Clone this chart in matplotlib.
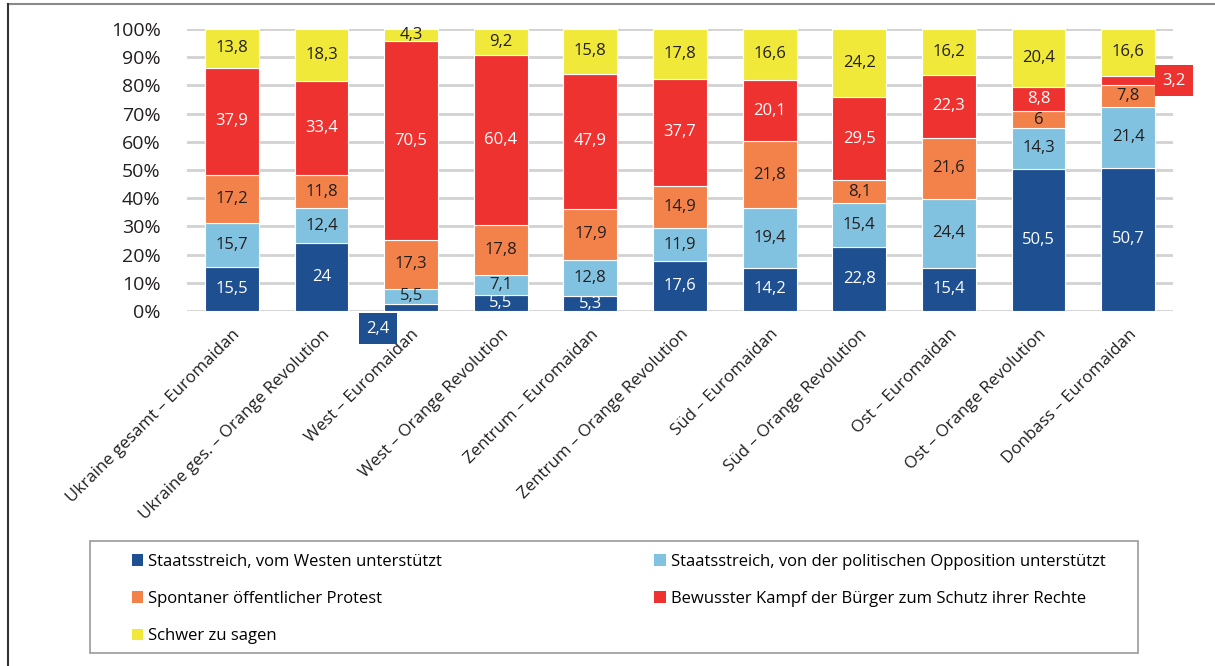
#!/usr/bin/env python3
"""Stacked 100% bars: Euromaidan vs Orange Revolution by region."""

import matplotlib.pyplot as plt
import numpy as np
from matplotlib.lines import Line2D
from matplotlib.patches import Patch, Rectangle

plt.rcParams["font.family"] = ["Open Sans", "DejaVu Sans"]

categories = [
    "Ukraine gesamt – Euromaidan",
    "Ukraine ges. – Orange Revolution",
    "West – Euromaidan",
    "West – Orange Revolution",
    "Zentrum – Euromaidan",
    "Zentrum – Orange Revolution",
    "Süd – Euromaidan",
    "Süd – Orange Revolution",
    "Ost – Euromaidan",
    "Ost – Orange Revolution",
    "Donbass – Euromaidan",
]

series_names = [
    "Staatsstreich, vom Westen unterstützt",
    "Staatsstreich, von der politischen Opposition unterstützt",
    "Spontaner öffentlicher Protest",
    "Bewusster Kampf der Bürger zum Schutz ihrer Rechte",
    "Schwer zu sagen",
]

westen = [15.5, 24, 2.4, 5.5, 5.3, 17.6, 14.2, 22.8, 15.4, 50.5, 50.7]
opposition = [15.7, 12.4, 5.5, 7.1, 12.8, 11.9, 19.4, 15.4, 24.4, 14.3, 21.4]
protest = [17.2, 11.8, 17.3, 17.8, 17.9, 14.9, 21.8, 8.1, 21.6, 6, 7.8]
kampf = [37.9, 33.4, 70.5, 60.4, 47.9, 37.7, 20.1, 29.5, 22.3, 8.8, 3.2]
schwer = [13.8, 18.3, 4.3, 9.2, 15.8, 17.8, 16.6, 24.2, 16.2, 20.4, 16.6]

colors = ["#1e4f90", "#80c2e0", "#f3814a", "#ee3230", "#f0e93a"]
text_colors = ["white", "#231f20", "#231f20", "white", "#231f20"]


def fmt(v):
    return f"{v:g}".replace(".", ",")


def main():
    data = np.array([westen, opposition, protest, kampf, schwer], dtype=float)
    pct = data / data.sum(axis=0) * 100

    fig = plt.figure(figsize=(12.15, 6.66), dpi=100)
    ax = fig.add_axes([187 / 1215, 1 - 311 / 666, 986 / 1215, 282 / 666])

    x = np.arange(len(categories))
    bottom = np.zeros(len(categories))
    for i, name in enumerate(series_names):
        ax.bar(x, pct[i], 0.6, bottom=bottom, color=colors[i],
               edgecolor="white", linewidth=0.8, label=name, zorder=3)
        for j in range(len(categories)):
            mid = bottom[j] + pct[i][j] / 2
            label = fmt(data[i][j])
            if (i, j) == (0, 2):
                # too small, boxed label below the bar
                ax.text(j - 0.37, -6.3, label, ha="center", va="center",
                        fontsize=12, color="white", zorder=5,
                        bbox=dict(boxstyle="square,pad=0.45", fc=colors[0], ec="none"),
                        clip_on=False)
            elif (i, j) == (3, 10):
                ax.text(j + 0.51, 81.6, label, ha="center", va="center",
                        fontsize=12, color="white", zorder=5,
                        bbox=dict(boxstyle="square,pad=0.45", fc=colors[3], ec="none"),
                        clip_on=False)
            else:
                ax.text(j, mid, label, ha="center", va="center", fontsize=12,
                        color=text_colors[i], zorder=4)
        bottom += pct[i]

    ax.set_xlim(-0.5, len(categories) - 0.5)
    ax.set_ylim(0, 100)
    ax.set_yticks(np.arange(0, 101, 10))
    ax.set_yticklabels([f"{v}%" for v in range(0, 101, 10)], fontsize=14,
                       color="#231f20")
    ax.yaxis.grid(True, color="#d2d2d2", linewidth=2, zorder=0)
    ax.set_axisbelow(True)
    for s in ax.spines.values():
        s.set_visible(False)
    ax.tick_params(axis="both", length=0)
    ax.tick_params(axis="y", pad=19)

    ax.set_xticks(x)
    ax.set_xticklabels(categories, rotation=45, ha="right", va="top",
                       rotation_mode="anchor", fontsize=12.2, color="#231f20")
    ax.tick_params(axis="x", pad=11)

    # legend frame + legend
    fig.add_artist(Rectangle((90 / 1215, 1 - 653 / 666), 1048 / 1215, 112 / 666,
                             transform=fig.transFigure, fill=False,
                             edgecolor="#9a9a9a", linewidth=1.2))
    handles = [Patch(facecolor=c, edgecolor="none") for c in colors]
    order = [0, 2, 4, 1, 3]
    fig.legend([handles[k] for k in order], [series_names[k] for k in order],
               loc="upper left", bbox_to_anchor=(125 / 1215, 1 - 547 / 666),
               ncol=2, frameon=False, fontsize=12, handlelength=0.7,
               handleheight=0.7, handletextpad=0.3, columnspacing=12.7,
               labelspacing=1.28, borderaxespad=0)

    # page frame
    fig.add_artist(Line2D([8 / 1215, 1], [1 - 4 / 666, 1 - 4 / 666],
                          transform=fig.transFigure, color="#8a8a8a", linewidth=1.5))
    fig.add_artist(Line2D([8 / 1215, 8 / 1215], [0, 1 - 4 / 666],
                          transform=fig.transFigure, color="#333333", linewidth=1.5))

    fig.savefig("out.png", dpi=100)


if __name__ == "__main__":
    main()
